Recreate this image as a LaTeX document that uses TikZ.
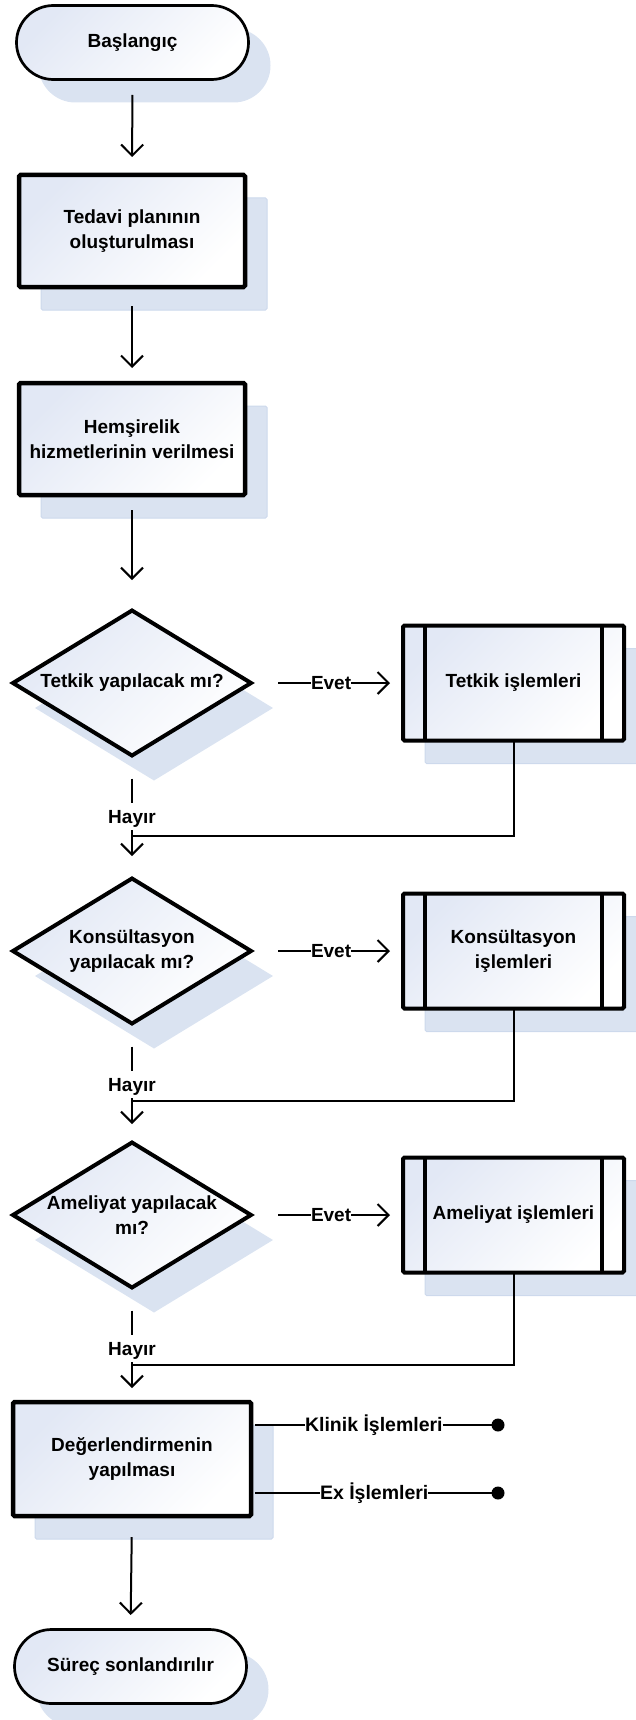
\documentclass[tikz,border=0pt]{standalone}
\usepackage{fontspec}
\setmainfont{Liberation Sans}
\usetikzlibrary{shapes.geometric,shadows,arrows.meta,calc}

\definecolor{fillblue}{HTML}{E2E8F5}
\definecolor{shadowblue}{HTML}{DAE3F1}
\definecolor{shadowedge}{HTML}{CDD9EC}

\tikzset{
  txt/.style={font=\fontsize{19}{25}\selectfont\bfseries, align=center, inner sep=0pt, outer sep=0pt},
  shaded/.style={top color=fillblue, bottom color=white, shading angle=45},
  boxshadow/.style={general shadow={fill=shadowblue, draw=shadowedge, line width=1pt,
      shadow xshift=22pt, shadow yshift=-23pt}},
  terminal/.style={txt, shaded, general shadow={fill=shadowblue, shadow xshift=22pt, shadow yshift=-23pt},
      draw, line width=2.7pt, rectangle, rounded corners=36.9pt,
      minimum width=232pt, minimum height=74pt},
  procbox/.style={txt, shaded, boxshadow, draw, line width=4.5pt, rectangle,
      rounded corners=1.5pt, minimum width=226pt, minimum height=112pt},
  subproc/.style={txt, shaded, boxshadow, draw, line width=4pt, rectangle,
      rounded corners=1.5pt, minimum width=221pt, minimum height=115pt},
  decision/.style={shaded, general shadow={fill=shadowblue, shadow xshift=22pt, shadow yshift=-25pt},
      draw, line width=4pt, diamond, inner sep=0pt, outer sep=0pt,
      minimum width=238pt, minimum height=145pt},
  bar/.style={line width=4pt},
  conn/.style={line width=2pt},
  arr/.style={conn, -{Straight Barb[length=11pt, width=22pt]}},
  lbl/.style={txt},
  sidelbl/.style={font=\fontsize{19.5}{24}\selectfont\bfseries, inner sep=0pt, outer sep=0pt},
  dot/.style={circle, fill=black, inner sep=0pt, minimum size=13pt},
}

\begin{document}
\begin{tikzpicture}[x=1pt, y=-1pt]
\useasboundingbox (0,0) rectangle (636,1720);

% main column
\node[terminal] (start) at (132.5,42.5) {Başlangıç};
\node[procbox] (plan) at (132,231) {Tedavi planının\\oluşturulması};
\node[procbox] (care) at (132,439) {Hemşirelik\\hizmetlerinin verilmesi};

% decisions
\node[decision] (q1) at (132,683) {};
\node[txt] (q1t) at (q1) {Tetkik yapılacak mı?};
\node[decision] (q2) at (132,951) {};
\node[txt] (q2t) at (q2) {Konsültasyon\\yapılacak mı?};
\node[decision] (q3) at (132,1215) {};
\node[txt] (q3t) at (q3) {Ameliyat yapılacak\\mı?};

% sub-processes
\node[subproc] (s1) at (513.5,683) {Tetkik işlemleri};
\node[subproc] (s2) at (513.5,951) {Konsültasyon\\işlemleri};
\node[subproc] (s3) at (513.5,1215) {Ameliyat işlemleri};
\foreach \s in {s1,s2,s3}{
  \draw[bar] ([xshift=22pt]\s.north west) -- ([xshift=22pt]\s.south west);
  \draw[bar] ([xshift=-22pt]\s.north east) -- ([xshift=-22pt]\s.south east);
}

% evaluation and end
\node[procbox, minimum width=238pt, minimum height=114pt] (eval) at (132,1459) {Değerlendirmenin\\yapılması};
\node[terminal] (end) at (130.5,1666.5) {Süreç sonlandırılır};

% straight arrows
\draw[arr, shorten <=15.5pt, shorten >=18pt] (start.south) -- (plan.north);
\draw[arr, shorten <=19pt, shorten >=15pt] (plan.south) -- (care.north);
\draw[arr, shorten <=15pt, shorten >=30.5pt] (care.south) -- (q1.north);
\draw[arr, shorten <=21pt, shorten >=14.5pt] (eval.south) -- (end.north);

% "Evet" branches
\node[lbl, anchor=west] (e1) at (311,683) {Evet};
\node[lbl, anchor=west] (e2) at (311,951) {Evet};
\node[lbl, anchor=west] (e3) at (311,1215) {Evet};
\foreach \q/\e/\s in {q1/e1/s1, q2/e2/s2, q3/e3/s3}{
  \draw[conn, shorten <=27pt] (\q.east) -- (\e.west);
  \draw[arr, shorten >=13pt] (\e.east) -- (\s.west);
}

% "Hayır" branches and returns
\node[lbl] (h1) at ($(q1)+(0,136)$) {Hayır};
\node[lbl] (h2) at ($(q2)+(0,136)$) {Hayır};
\node[lbl] (h3) at ($(q3)+(0,136)$) {Hayır};
\coordinate (j1) at ($(q1)+(1,153)$);
\coordinate (j2) at ($(q2)+(1,150)$);
\coordinate (j3) at ($(q3)+(1,150)$);
\foreach \q/\h in {q1/h1, q2/h2, q3/h3}{
  \draw[conn, shorten <=23pt, shorten >=7.5pt] (\q.south) -- (\h.north);
}
\draw[arr, shorten <=2.5pt, shorten >=22.5pt] (h1.south) -- (q2.north);
\draw[arr, shorten <=2.5pt, shorten >=18.5pt] (h2.south) -- (q3.north);
\draw[arr, shorten <=2.5pt, shorten >=14pt] (h3.south) -- (eval.north);
\draw[conn] (s1.south) |- (j1);
\draw[conn] (s2.south) |- (j2);
\draw[conn] (s3.south) |- (j3);

% outputs of the evaluation step
\node[sidelbl, anchor=west] (k1) at (305,1425) {Klinik İşlemleri};
\node[sidelbl, anchor=west] (k2) at (320,1493) {Ex İşlemleri};
\node[dot] (k1d) at (498,1425) {};
\node[dot] (k2d) at (498,1493) {};
\draw[conn, shorten <=4pt] (eval.east |- k1.west) -- (k1.west);
\draw[conn, shorten <=4pt] (eval.east |- k2.west) -- (k2.west);
\draw[conn] (k1.east) -- (k1d.center);
\draw[conn] (k2.east) -- (k2d.center);
\end{tikzpicture}
\end{document}
